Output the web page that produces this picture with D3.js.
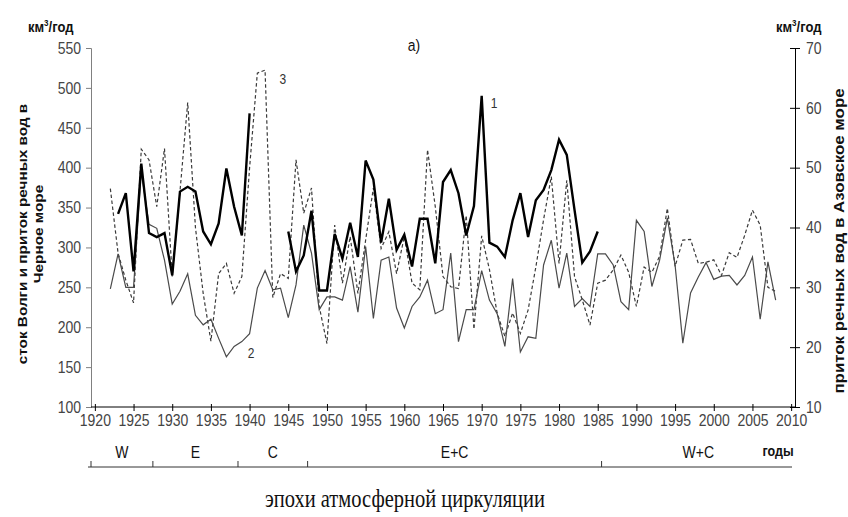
<!DOCTYPE html>
<html><head><meta charset="utf-8">
<script src="https://cdn.jsdelivr.net/npm/d3@7/dist/d3.min.js"></script>
<style>
body{margin:0;background:#fff;}
svg{display:block;font-family:"Liberation Sans",Arial,sans-serif;}
</style></head>
<body>
<svg id="c" width="848" height="517"></svg>
<script>
// ---- data ----
const start1 = 1923; // series 1: inflow to Black Sea (left axis), 1923-1985
const series1 = [342,368,270,405,318,313,318,265,370,376,
                 370,320,304,330,399,351,315,468,null,null,
                 null,null,320,270,290,346,246,246,317,286,
                 331,288,409,385,306,361,297,316,276,336,
                 336,280,382,397,368,315,352,490,306,301,
                 288,334,368,313,359,372,397,435,416,347,
                 281,295,320];
const start2 = 1922; // series 2: Volga runoff (left axis), 1922-2008
const series2 = [248,292,250,250,395,329,324,284,229,245,
                 267,215,203,210,186,163,176,182,192,249,
                 271,247,249,212,253,328,293,222,238,238,
                 234,276,219,301,211,284,288,224,199,226,
                 238,259,217,222,293,182,222,222,271,234,
                 217,176,261,169,188,186,278,309,249,293,
                 226,236,226,292,292,278,232,222,334,320,
                 251,284,337,278,180,243,263,281,260,264,
                 265,253,265,288,210,282,234];
const start3 = 1922; // series 3: inflow to Azov Sea (right axis), 1922-2008
const series3 = [46.5,35.7,31.2,27.4,53.1,51.3,43.5,53.2,31.8,46,
                 60.9,40,29,21,32.3,34,29,31.8,50,65.8,
                 66.3,28.3,32.3,31.5,51.3,42.4,46.6,26.8,20.6,40.4,
                 30.7,38.5,29,37.9,46.6,36.5,39.3,32.3,38.5,30.7,
                 29.6,53,43.5,31.8,30.1,29.8,42,23,38.6,33,
                 25.7,21.8,25.7,22.3,26.2,33.4,41.3,48.5,34,47.9,
                 31.8,27.9,23.7,30.7,31.2,32.9,35.4,32.5,26.8,33.4,
                 32.5,35.2,43.2,33.5,37.9,38,34,34.2,34.6,32,
                 35.8,35,38.7,42.9,40.4,30,29.3];
const xTicks = d3.range(1920, 2011, 5);
const yLeftTicks = [100,150,200,250,300,350,400,450,500,550];
const yRightTicks = [10,20,30,40,50,60,70];
const epochNames = ["W","E","C","E+C","W+C"];
const epochStarts = [1920,1928,1939,1948,1986];
const epochEnd = 2010;
const seriesLabels = [{t:"1",year:1971.6,v:481},{t:"2",year:1940.2,v:168},{t:"3",year:1944.3,v:511}];

// ---- layout ----
const svg = d3.select("#c");
const L = 91, R = 795, T = 48, B = 407;
const SY = 1.18; // vertical stretch of the text in the picture
const x = d3.scaleLinear().domain([1919.5, 2010.5]).range([L, R]);
const yL = d3.scaleLinear().domain([100, 550]).range([B, T]);
const yR = d3.scaleLinear().domain([10, 70]).range([B, T]);

const toPts = (start, arr) => arr.map((v,i)=>({year:start+i, v}));
function label(px, py, txt, size, opts={}) {
  const t = svg.append("text")
    .attr("transform", `translate(${px},${py}) scale(1,${SY})` + (opts.rot ? " rotate(-90)" : ""))
    .attr("text-anchor", opts.anchor || "middle")
    .style("font-size", size + "px")
    .style("font-weight", opts.bold ? "bold" : "normal")
    .attr("fill", opts.fill || "#111");
  if (opts.family) t.style("font-family", opts.family);
  if (txt != null) t.attr("dy","0.35em").text(txt);
  return t;
}

// axes
const gL = svg.append("g").attr("transform",`translate(${L},0)`)
  .call(d3.axisLeft(yL).tickValues(yLeftTicks).tickSize(5).tickPadding(5));
gL.select(".domain").attr("stroke","#808080");
gL.selectAll(".tick line").attr("stroke","#808080");
gL.selectAll(".tick text").attr("fill","#444").style("font-size","14px").attr("transform",`scale(1,${SY})`);

const gR = svg.append("g").attr("transform",`translate(${R},0)`)
  .call(d3.axisRight(yR).tickValues(yRightTicks).tickSize(5).tickPadding(6));
gR.select(".domain").attr("stroke","#000");
gR.selectAll(".tick line").attr("stroke","#000").attr("x1",-5).attr("x2",5);
gR.selectAll(".tick text").attr("fill","#444").style("font-size","14px").attr("transform",`scale(1,${SY})`);

const gX = svg.append("g").attr("transform",`translate(0,${B})`)
  .call(d3.axisBottom(x).tickValues(xTicks).tickFormat(d3.format("d")).tickSize(4).tickPadding(2));
gX.select(".domain").attr("stroke","#000").attr("d",`M${L},0H${R}`);
gX.selectAll(".tick line").attr("stroke","#000").attr("y1",-3).attr("y2",4);
gX.selectAll(".tick text").attr("fill","#444").style("font-size","14px").attr("transform",`scale(1,${SY})`);

// lines
const lineL = d3.line().defined(d=>d.v!=null).x(d=>x(d.year)).y(d=>yL(d.v));
const lineR = d3.line().defined(d=>d.v!=null).x(d=>x(d.year)).y(d=>yR(d.v));

svg.append("path").datum(toPts(start3, series3)).attr("d",lineR)
  .attr("fill","none").attr("stroke","#3a3a3a").attr("stroke-width",1.2).attr("stroke-dasharray","3.5,2.5");
svg.append("path").datum(toPts(start2, series2)).attr("d",lineL)
  .attr("fill","none").attr("stroke","#4a4a4a").attr("stroke-width",1.2);
svg.append("path").datum(toPts(start1, series1)).attr("d",lineL)
  .attr("fill","none").attr("stroke","#000").attr("stroke-width",2.4).attr("stroke-linejoin","miter");

// series labels
seriesLabels.forEach(d => label(x(d.year), yL(d.v), d.t, 12, {fill:"#333"}));

// titles
label(414, 45, "а)", 14);
[[28,"start"],[776,"start"]].forEach(([px,anchor]) => {
  const u = label(px, 27, null, 13, {bold:true, anchor});
  u.append("tspan").attr("dy","0.35em").text("км");
  u.append("tspan").attr("dy",-5).style("font-size","8px").text("3");
  u.append("tspan").attr("dy",5).text("/год");
});

const lt = label(22, 234, null, 13, {bold:true, rot:true});
lt.append("tspan").attr("x",0).attr("dy","0.35em").text("сток Волги и приток речных вод в");
lt.append("tspan").attr("x",0).attr("dy","1.25em").text("Черное море");

label(839, 241, "приток речных вод в Азовское море", 14.3, {bold:true, rot:true});

// epochs
const eY = 467;
const bounds = epochStarts.map(s=>x(s-0.5));
svg.append("line").attr("x1",bounds[0]-3).attr("x2",x(epochEnd+0.5)-3).attr("y1",eY).attr("y2",eY).attr("stroke","#333").attr("stroke-width",1);
svg.selectAll(".etick").data(bounds).enter().append("line")
  .attr("x1",d=>d).attr("x2",d=>d).attr("y1",eY-6).attr("y2",eY).attr("stroke","#333");
epochNames.forEach((n,i) => {
  const a = x(epochStarts[i]-0.5);
  const b = i < epochStarts.length-1 ? x(epochStarts[i+1]-0.5) : x(epochEnd+0.5);
  label((a+b)/2, 452, n, 14);
});
label(778, 451, "годы", 12.5, {bold:true});
label(405, 499, "эпохи атмосферной циркуляции", 20.5, {family:"Liberation Serif, Times New Roman, serif"});
</script>
</body></html>
